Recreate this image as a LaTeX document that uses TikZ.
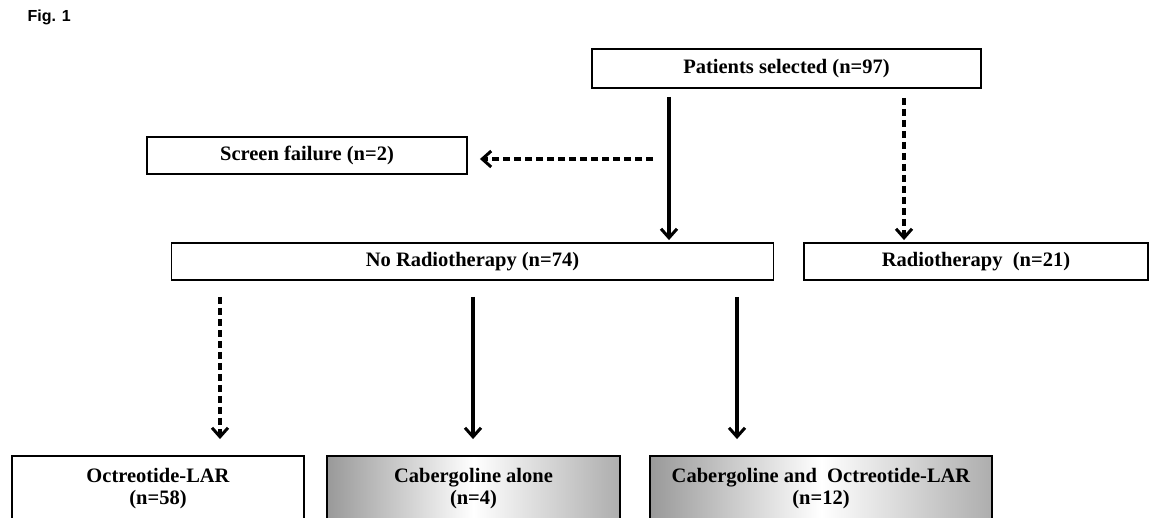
\documentclass[tikz,border=0pt]{standalone}
\usepackage{fontspec}
\setmainfont{Liberation Serif}
\newfontfamily\figfont{Liberation Sans}
\usetikzlibrary{arrows.meta}
\begin{document}
\begin{tikzpicture}[x=1pt,y=-1pt,
  box/.style={draw, line width=1.9pt, rectangle, inner sep=0pt, align=center,
    font=\bfseries\fontsize{20.5}{22}\selectfont},
  shadebox/.style={box, left color=black!40, right color=black!32, middle color=white},
  solidarr/.style={line width=3.2pt, -{Straight Barb[length=9pt,width=16pt,line width=3pt]}},
  dasharr/.style={line width=3.4pt, dash pattern=on 7pt off 4pt, -{Straight Barb[length=9pt,width=16pt,line width=3pt]}}
]
\useasboundingbox (0,0) rectangle (1154,517);
\clip (0,0) rectangle (1154,517);
\fill[white] (0,0) rectangle (1154,517);

\node[anchor=west, font=\figfont\bfseries\fontsize{16}{18}\selectfont] (fig) at (24,17) {Fig. 1};

\node[box, minimum width=389pt, minimum height=39pt] (patients) at (786.5,68.5) {Patients selected (n=97)};
\node[box, minimum width=320pt, minimum height=37pt] (screen) at (307,155.5) {Screen failure (n=2)};
\node[box, minimum width=602pt, minimum height=37pt] (norad) at (472.5,261.5) {No Radiotherapy (n=74)};
\node[box, minimum width=344pt, minimum height=37pt] (rad) at (976,261.5) {Radiotherapy\ \ (n=21)};

\node[box, minimum width=292pt, minimum height=66pt] (oct) at (158,489) {Octreotide-LAR\\(n=58)};
\node[shadebox, minimum width=293pt, minimum height=66pt] (cab) at (473.5,489) {Cabergoline alone\\(n=4)};
\node[shadebox, minimum width=342pt, minimum height=66pt] (cabo) at (821,489) {Cabergoline and\ \ Octreotide-LAR\\(n=12)};

\coordinate (sfstart) at (653,159);
\coordinate (xl) at (220,0);
\coordinate (xm) at (473,0);
\coordinate (xr) at (737,0);

\draw[solidarr, shorten <=8pt, shorten >=2pt] (patients.south -| 669,0) -- (norad.north -| 669,0);
\draw[dasharr, shorten <=9pt, shorten >=2pt] (patients.south -| 904,0) -- (rad.north -| 904,0);
\draw[dasharr, shorten >=12pt] (sfstart) -- (screen.east |- sfstart);

\draw[dasharr, shorten <=16pt, shorten >=16pt] (norad.south -| xl) -- (oct.north -| xl);
\draw[solidarr, shorten <=16pt, shorten >=16pt] (norad.south -| xm) -- (cab.north -| xm);
\draw[solidarr, shorten <=16pt, shorten >=16pt] (norad.south -| xr) -- (cabo.north -| xr);
\end{tikzpicture}
\end{document}
